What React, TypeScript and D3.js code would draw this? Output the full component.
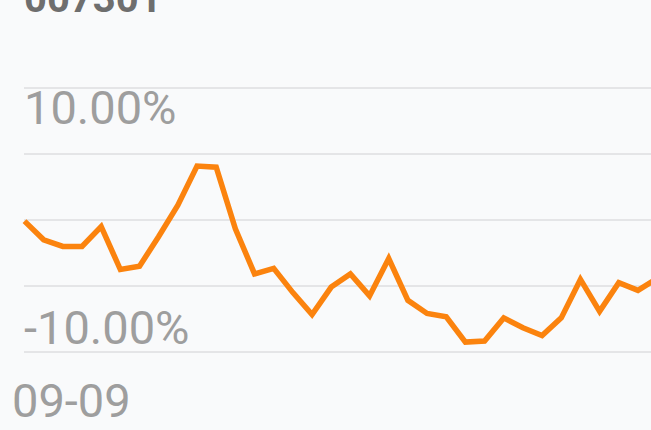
import React from 'react';
import * as d3 from 'd3';

const title = '007301';
const dateLabels = ['09-09'];
const yTicks = [12, 6, 0, -6, -12];
const yLabels = [10, -10];
// percent change per day
const values: number[] = [
  -0.1, -1.8, -2.4, -2.4, -0.6, -4.5, -4.2, -1.5, 1.35, 4.9, 4.8, -0.8,
  -4.9, -4.4, -6.6, -8.6, -6.1, -4.9, -6.9, -3.5, -7.3, -8.5, -8.8, -11.1,
  -11.0, -8.9, -9.8, -10.5, -8.9, -5.4, -8.3, -5.7, -6.4, -5.3,
];

const W = 651;
const H = 430;

const App = () => {
  const x = d3
    .scaleLinear()
    .domain([0, values.length - 1])
    .range([24.5, 24.5 + (values.length - 1) * 19.17]);
  const y = d3.scaleLinear().domain([-12, 12]).range([352, 88]);

  const line = d3
    .line<number>()
    .x((_, i) => x(i))
    .y(d => y(d));

  const font = 'Roboto, "Noto Sans", sans-serif';

  return (
    <svg
      width={W}
      height={H}
      style={{ position: 'absolute', left: 0, top: 0 }}
    >
      <rect width={W} height={H} fill="#f9fafb" />
      <text x={24} y={12} fontFamily={font} fontWeight="bold" fontSize={40} fill="#6e6e6e">
        {title}
      </text>
      {yTicks.map(t => (
        <line key={t} x1={24} x2={W} y1={y(t)} y2={y(t)} stroke="#d0d0d3" strokeWidth={1} />
      ))}
      {yLabels.map(v => (
        <text key={v} x={24} y={y(v) + 14} fontFamily={font} fontSize={47} fill="#9e9e9e">
          {v.toFixed(2) + '%'}
        </text>
      ))}
      <path
        d={line(values) ?? ''}
        fill="none"
        stroke="#fb830e"
        strokeWidth={5.5}
        strokeLinejoin="miter"
      />
      {dateLabels.map(l => (
        <text key={l} x={12} y={417} fontFamily={font} fontSize={47} fill="#9e9e9e">
          {l}
        </text>
      ))}
    </svg>
  );
};

export default App;
